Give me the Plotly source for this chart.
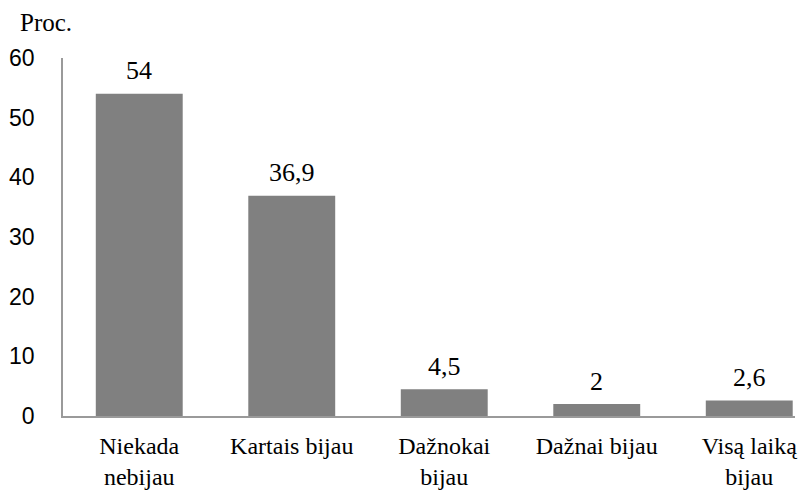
import plotly.graph_objects as go

categories = ["Niekada<br>nebijau", "Kartais bijau", "Dažnokai<br>bijau", "Dažnai bijau", "Visą laiką<br>bijau"]
values = [54, 36.9, 4.5, 2, 2.6]
value_labels = ["54", "36,9", "4,5", "2", "2,6"]
y_ticks = [0, 10, 20, 30, 40, 50, 60]

xs = list(range(len(categories)))

fig = go.Figure(go.Bar(
    x=xs,
    y=values,
    marker=dict(color="#808080", line=dict(width=0)),
    cliponaxis=False,
    hoverinfo="skip",
))

annotations = [
    dict(x=x, y=v, text=t, xref="x", yref="y", showarrow=False,
         yanchor="middle", yshift=23,
         font=dict(family="Liberation Serif", size=26, color="#000000"))
    for x, v, t in zip(xs, values, value_labels)
]
annotations.append(dict(
    text="Proc.", xref="paper", yref="paper",
    x=-0.062, y=1.0, yshift=36, xanchor="left", yanchor="middle",
    showarrow=False,
    font=dict(family="Liberation Serif", size=25, color="#000000"),
))

fig.update_layout(
    width=801, height=490,
    margin=dict(l=63, r=6, t=58, b=74),
    plot_bgcolor="white", paper_bgcolor="white",
    bargap=0.43,
    showlegend=False,
    xaxis=dict(
        range=[-0.5, 4.3],
        tickmode="array",
        tickvals=xs,
        ticktext=categories,
        tickfont=dict(family="Liberation Serif", size=24, color="#000000"),
        showgrid=False, zeroline=False,
        showline=True, linecolor="#9a9a9a", linewidth=1.5,
        ticks="", ticklabelstandoff=7, automargin=False,
    ),
    yaxis=dict(
        range=[0, 60],
        tickmode="array",
        tickvals=y_ticks,
        tickfont=dict(family="Liberation Sans", size=23, color="#000000"),
        showgrid=False, zeroline=False,
        showline=True, linecolor="#9a9a9a", linewidth=1.5,
        ticks="", ticklabelstandoff=22, automargin=False,
    ),
    annotations=annotations,
)

fig.write_html(
    "out.html",
    config={"displayModeBar": False},
    post_script="document.body.style.margin='0';document.body.style.overflow='hidden';",
)
